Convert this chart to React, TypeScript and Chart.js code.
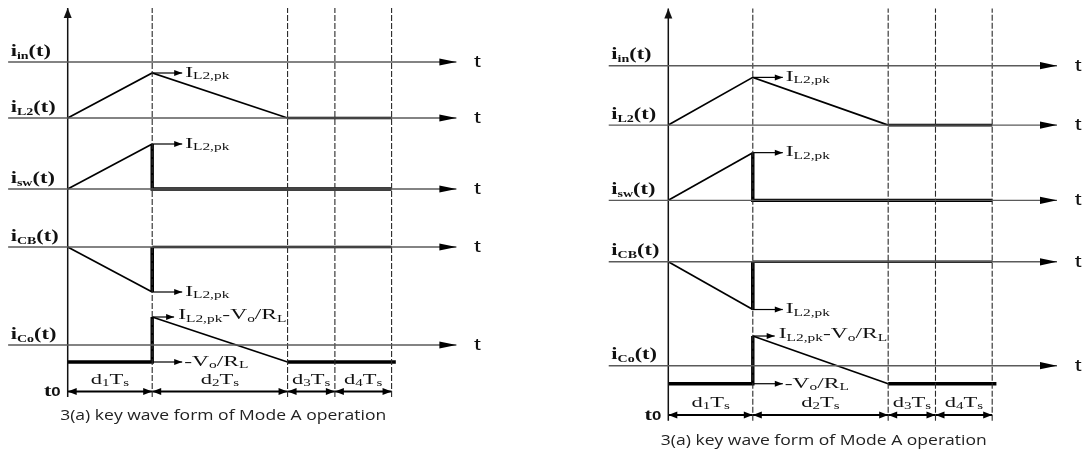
import React, { useEffect, useRef } from 'react';
import { Chart, registerables } from 'chart.js';

Chart.register(...registerables);

// ---------- data (schematic waveform values) ----------
// phase durations in units of d1·Ts
const phaseNames = ['1', '2', '3', '4'];
const phaseDurations = [1, 1.602, 0.56, 0.671];
// I_L2,pk and Vo/RL levels (arbitrary current units)
const peakCurrent = 45;
const loadCurrent = 17;
// traces (top to bottom) and the zero level of each trace
const traceNames = ['in', 'L2', 'sw', 'CB', 'Co'];
const traceOffsets = [283, 227, 156, 98, 0];

// waveform segments: [boundaryIndex, value]
const iL2Ramp: [number, number][] = [[0, 0], [1, peakCurrent], [2, 0]];
const iL2Idle: [number, number][] = [[2, 0], [4, 0]];
const iSwRamp: [number, number][] = [[0, 0], [1, peakCurrent]];
const iSwOff: [number, number][] = [[1, peakCurrent], [1, 0], [4, 0]];
const iCbRamp: [number, number][] = [[0, 0], [1, -peakCurrent]];
const iCbJump: [number, number][] = [[1, -peakCurrent], [1, 0]];
const iCbIdle: [number, number][] = [[1, 0], [4, 0]];
const iCoLoad: [number, number][] = [[0, -loadCurrent], [1, -loadCurrent], [1, peakCurrent - loadCurrent]];
const iCoFall: [number, number][] = [[1, peakCurrent - loadCurrent], [2, -loadCurrent]];
const iCoIdle: [number, number][] = [[2, -loadCurrent], [4.05, -loadCurrent]];

const captionText = '3(a) key wave form of Mode A operation';

// ---------- layout (positions / sizes only) ----------
const W = 1084;
const H = 452;
const panels = [
  { left: 0, width: 540, originX: 67.7, originY: 345, pxPerT: 84.5, pxPerUnit: 1 },
  { left: 540, width: 544, originX: 128.3, originY: 365.7, pxPerT: 84.5, pxPerUnit: 1.06 },
];
const axisStartT = -0.705;
const axisEndT = 4.6;
const tLabelT = 4.85;
const gridTop = 337;
const gridBottom = -52;
const dimY = -46.5;
const phaseLabelY = -35.5;
const captionY = -75;
const captionT = 1.84;
const annotLen = 0.355;

type Run = { t: string; sub?: boolean; family?: string; size?: number; weight?: string };

const textStyles: Record<string, any> = {
  trace: { family: '"Liberation Serif", serif', weight: 'bold', size: 16, sub: 10, drop: 3, hScale: 1.4 },
  current: { family: '"Liberation Serif", serif', weight: 'normal', size: 14.5, sub: 9.5, drop: 3.5, hScale: 1.62 },
  phase: { family: '"Liberation Serif", serif', weight: 'normal', size: 15, sub: 10, drop: 3, hScale: 1.5 },
  axis: { family: '"Liberation Sans", sans-serif', weight: 'normal', size: 17, sub: 11, drop: 3, hScale: 1.45 },
  caption: { family: '"Open Sans", sans-serif', weight: 'normal', size: 14, sub: 10, drop: 3, fitWidth: 326 },
};

const traceLabelRuns: Run[][] = traceNames.map((n) => [{ t: 'i' }, { t: n, sub: true }, { t: '(t)' }]);
const ipkRuns: Run[] = [{ t: 'I' }, { t: 'L2,pk', sub: true }];
const ipkMinusRuns: Run[] = [{ t: 'I' }, { t: 'L2,pk', sub: true }, { t: '-V' }, { t: 'o', sub: true }, { t: '/R' }, { t: 'L', sub: true }];
const loadRuns: Run[] = [{ t: '-V' }, { t: 'o', sub: true }, { t: '/R' }, { t: 'L', sub: true }];

const boundaries = phaseDurations.reduce<number[]>((acc, d) => [...acc, acc[acc.length - 1] + d], [0]);

function bt(idx: number) {
  const i = Math.floor(idx);
  const frac = idx - i;
  if (frac === 0) return boundaries[i];
  return boundaries[i] + frac;
}

function buildDatasets() {
  const ds: any[] = [];
  const line = (pts: { x: number; y: number }[], opts: any) =>
    ds.push({
      data: pts,
      showLine: true,
      pointRadius: 0,
      pointHoverRadius: 0,
      borderColor: '#000',
      borderWidth: 1.5,
      borderJoinStyle: 'miter',
      fill: false,
      ...opts,
    });
  const wave = (seg: [number, number][], off: number, w: number) =>
    line(seg.map(([i, v]) => ({ x: bt(i), y: off + v })), { borderWidth: w });

  // trace axes
  traceOffsets.forEach((off) =>
    line([{ x: axisStartT, y: off }, { x: axisEndT, y: off }], {
      borderColor: '#5a5a5a', borderWidth: 1.4, arrow: 'end', arrowLen: 17, arrowHalf: 3.6, arrowColor: '#000',
    })
  );
  // vertical axis
  line([{ x: 0, y: gridBottom }, { x: 0, y: gridTop }], {
    borderColor: '#111', borderWidth: 1.5, arrow: 'end', arrowLen: 10, arrowHalf: 4,
  });
  // phase boundaries
  boundaries.slice(1).forEach((t) =>
    line([{ x: t, y: gridBottom }, { x: t, y: gridTop }], { borderColor: '#2a2a2a', borderWidth: 1.1, borderDash: [6, 2] })
  );
  // waveforms
  wave(iL2Ramp, traceOffsets[1], 1.7);
  wave(iL2Idle, traceOffsets[1], 2.6);
  wave(iSwRamp, traceOffsets[2], 1.7);
  wave(iSwOff, traceOffsets[2], 3.4);
  wave(iCbRamp, traceOffsets[3], 1.7);
  wave(iCbJump, traceOffsets[3], 3.6);
  wave(iCbIdle, traceOffsets[3], 2.6);
  wave(iCoLoad, traceOffsets[4], 3.4);
  wave(iCoFall, traceOffsets[4], 1.7);
  wave(iCoIdle, traceOffsets[4], 3.4);

  // annotation arrows
  const annot = (y: number, len: number) =>
    line([{ x: boundaries[1], y }, { x: boundaries[1] + len, y }], {
      borderWidth: 1.2, arrow: 'end', arrowLen: 8, arrowHalf: 3,
    });
  annot(traceOffsets[1] + peakCurrent, annotLen);
  annot(traceOffsets[2] + peakCurrent, annotLen);
  annot(traceOffsets[3] - peakCurrent, annotLen);
  annot(traceOffsets[4] + peakCurrent - loadCurrent, annotLen * 0.73);
  annot(traceOffsets[4] - loadCurrent, annotLen);

  // dimension arrows
  phaseDurations.forEach((_, i) =>
    line([{ x: boundaries[i], y: dimY }, { x: boundaries[i + 1], y: dimY }], {
      borderWidth: 2, arrow: 'both', arrowLen: 9, arrowHalf: 3.5,
    })
  );
  return ds;
}

function buildTexts() {
  const items: any[] = [];
  traceOffsets.forEach((off, i) =>
    items.push({ x: 0, y: off, dx: -57, dy: -6.5, runs: traceLabelRuns[i], style: 'trace', align: 'left' })
  );
  traceOffsets.forEach((off) =>
    items.push({ x: tLabelT, y: off, dx: 0, dy: 5, runs: [{ t: 't' }], style: 'axis', align: 'center' })
  );
  const b1 = boundaries[1];
  items.push({ x: b1, y: traceOffsets[1] + peakCurrent, dx: 33, dy: 0, runs: ipkRuns, style: 'current', align: 'left', baseline: 'middle' });
  items.push({ x: b1, y: traceOffsets[2] + peakCurrent, dx: 33, dy: 0, runs: ipkRuns, style: 'current', align: 'left', baseline: 'middle' });
  items.push({ x: b1, y: traceOffsets[3] - peakCurrent, dx: 33, dy: 0, runs: ipkRuns, style: 'current', align: 'left', baseline: 'middle' });
  items.push({ x: b1, y: traceOffsets[4] + peakCurrent - loadCurrent, dx: 26, dy: -1.5, runs: ipkMinusRuns, style: 'current', align: 'left', baseline: 'middle' });
  items.push({ x: b1, y: traceOffsets[4] - loadCurrent, dx: 32, dy: 0, runs: loadRuns, style: 'current', align: 'left', baseline: 'middle' });
  phaseNames.forEach((n, i) =>
    items.push({
      x: (boundaries[i] + boundaries[i + 1]) / 2, y: phaseLabelY, dx: 0, dy: 0,
      runs: [{ t: 'd' }, { t: n, sub: true }, { t: 'T' }, { t: 's', sub: true }],
      style: 'phase', align: 'center', baseline: 'middle',
    })
  );
  items.push({
    x: 0, y: -51, dx: -7, dy: 0,
    runs: [{ t: 't', weight: 'bold' }, { t: '0', family: '"Liberation Sans", sans-serif', size: 12 }],
    style: 'trace', align: 'right',
  });
  items.push({ x: captionT, y: captionY, dx: 0, dy: 0, runs: [{ t: captionText }], style: 'caption', align: 'center', color: '#222' });
  return items;
}

function drawRich(ctx: CanvasRenderingContext2D, item: any, px: number, py: number) {
  const st = textStyles[item.style];
  const fontFor = (r: Run) => {
    const fam = r.family || st.family;
    const size = r.sub ? st.sub : r.size || st.size;
    const w = r.weight || st.weight || 'normal';
    return `${w} ${size}px ${fam}`;
  };
  let width = 0;
  for (const r of item.runs as Run[]) {
    ctx.font = fontFor(r);
    width += ctx.measureText(r.t).width;
  }
  const hs = st.fitWidth ? st.fitWidth / width : st.hScale;
  let x0 = px;
  if (item.align === 'center') x0 -= (width * hs) / 2;
  else if (item.align === 'right') x0 -= width * hs;
  ctx.save();
  ctx.translate(x0, py);
  ctx.scale(hs, 1);
  ctx.textBaseline = item.baseline || 'alphabetic';
  ctx.textAlign = 'left';
  ctx.fillStyle = item.color || '#111';
  let cx = 0;
  for (const r of item.runs as Run[]) {
    ctx.font = fontFor(r);
    ctx.fillText(r.t, cx, r.sub ? st.drop : 0);
    cx += ctx.measureText(r.t).width;
  }
  ctx.restore();
}

const decorPlugin = {
  id: 'decor',
  afterDatasetsDraw(chart: any) {
    const ctx: CanvasRenderingContext2D = chart.ctx;
    chart.data.datasets.forEach((ds: any, i: number) => {
      if (!ds.arrow) return;
      const pts = chart.getDatasetMeta(i).data;
      const n = pts.length;
      const head = (a: any, b: any) => {
        const ang = Math.atan2(b.y - a.y, b.x - a.x);
        ctx.save();
        ctx.translate(b.x, b.y);
        ctx.rotate(ang);
        ctx.beginPath();
        ctx.moveTo(0, 0);
        ctx.lineTo(-ds.arrowLen, -ds.arrowHalf);
        ctx.lineTo(-ds.arrowLen, ds.arrowHalf);
        ctx.closePath();
        ctx.fillStyle = ds.arrowColor || ds.borderColor;
        ctx.fill();
        ctx.restore();
      };
      if (ds.arrow === 'end' || ds.arrow === 'both') head(pts[n - 2], pts[n - 1]);
      if (ds.arrow === 'start' || ds.arrow === 'both') head(pts[1], pts[0]);
    });
    const xs = chart.scales.x;
    const ys = chart.scales.y;
    const items = chart.options.plugins.decor.texts;
    items.forEach((it: any) => {
      drawRich(ctx, it, xs.getPixelForValue(it.x) + it.dx, ys.getPixelForValue(it.y) + it.dy);
    });
  },
};

function Panel({ p }: { p: (typeof panels)[number] }) {
  const ref = useRef<HTMLCanvasElement>(null);
  useEffect(() => {
    if (!ref.current) return;
    const chart = new Chart(ref.current, {
      type: 'scatter',
      data: { datasets: buildDatasets() },
      options: {
        animation: false,
        responsive: false,
        devicePixelRatio: 1,
        layout: { padding: 0 },
        events: [],
        scales: {
          x: { type: 'linear', display: false, min: -p.originX / p.pxPerT, max: (p.width - p.originX) / p.pxPerT },
          y: { type: 'linear', display: false, min: -(H - p.originY) / p.pxPerUnit, max: p.originY / p.pxPerUnit },
        },
        plugins: {
          legend: { display: false },
          tooltip: { enabled: false },
          decor: { texts: buildTexts() },
        } as any,
      },
      plugins: [decorPlugin],
    });
    return () => chart.destroy();
  }, [p]);
  return (
    <canvas
      ref={ref}
      width={p.width}
      height={H}
      style={{ position: 'absolute', left: p.left, top: 0, width: p.width, height: H }}
    />
  );
}

export default function App() {
  return (
    <div style={{ position: 'fixed', left: 0, top: 0, width: W, height: H, background: '#fff', overflow: 'hidden' }}>
      {panels.map((p, i) => (
        <Panel key={i} p={p} />
      ))}
    </div>
  );
}
